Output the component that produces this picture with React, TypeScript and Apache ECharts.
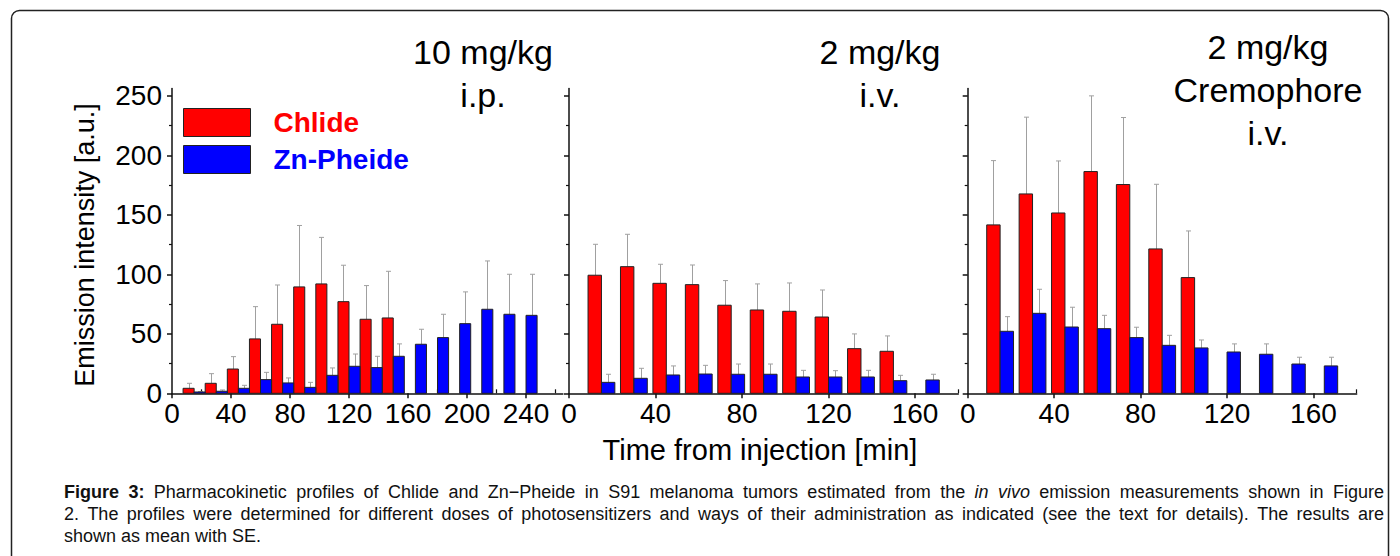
import React, { useEffect, useRef } from 'react';
import * as echarts from 'echarts';

// ---------- data ----------
const seriesNames = ['Chlide', 'Zn-Pheide'];
const panelTitles = ['10 mg/kg\ni.p.', '2 mg/kg\ni.v.', '2 mg/kg\nCremophore\ni.v.'];

// Panel 1: 10 mg/kg i.p.
const p1ChlideTime = [15, 30, 45, 60, 75, 90, 105, 120, 135, 150];
const p1ChlideMean = [4.2, 8.4, 20.4, 45.7, 58, 89.4, 91.9, 77, 62.2, 63.3];
const p1ChlideSE = [4.2, 8.1, 10.4, 27.1, 33, 51.6, 39.1, 30.6, 28.3, 39.2];
const p1ZnTime = [15, 30, 45, 60, 75, 90, 105, 120, 135, 150, 165, 180, 195, 210, 225, 240];
const p1ZnMean = [1.1, 1.7, 4.2, 11.5, 8.7, 5, 15.1, 22.7, 21.6, 31.1, 41.2, 46.8, 58.5, 70.6, 66.4, 65.5];
const p1ZnSE = [0.4, 1.1, 2.5, 6.1, 4.2, 4.2, 6.2, 10.3, 9.5, 10.4, 12.6, 19.6, 26.7, 40.6, 33.6, 34.5];

// Panel 2: 2 mg/kg i.v.
const p2ChlideTime = [15, 30, 45, 60, 75, 90, 105, 120, 135, 150];
const p2ChlideMean = [99.2, 106.4, 92.4, 91.3, 74, 70, 68.9, 64.1, 37.5, 35.3];
const p2ChlideSE = [26, 27.2, 16, 16.5, 20.7, 21.9, 23.8, 22.7, 12.4, 12.9];
const p2ZnTime = [15, 30, 45, 60, 75, 90, 105, 120, 135, 150, 165];
const p2ZnMean = [9.2, 12.6, 15.4, 16.2, 16, 16, 13.7, 13.7, 13.7, 10.6, 11.2];
const p2ZnSE = [6.8, 8.4, 7.6, 7.3, 8.6, 8.6, 5.6, 5.3, 5.6, 4.5, 4.8];

// Panel 3: 2 mg/kg Cremophore i.v.
const p3ChlideTime = [15, 30, 45, 60, 75, 90, 105];
const p3ChlideMean = [141.5, 167.5, 151.5, 186.3, 175.4, 121.3, 97.2];
const p3ChlideSE = [54, 64.5, 43.7, 63.6, 56.3, 54.3, 39.2];
const p3ZnTime = [15, 30, 45, 60, 75, 90, 105, 120, 135, 150, 165];
const p3ZnMean = [52.1, 67.2, 55.7, 54.3, 46.8, 40.3, 38.1, 34.7, 32.8, 24.6, 23];
const p3ZnSE = [12.3, 20.2, 16.6, 11.2, 8.7, 8.4, 6.7, 6.8, 8.7, 5.7, 7.3];

// axes
const xMaxes = [265, 180, 180];
const xMajor1 = [0, 40, 80, 120, 160, 200, 240];
const xMinor1 = [20, 60, 100, 140, 180, 220, 260];
const xMajor23 = [0, 40, 80, 120, 160];
const xMinor23 = [20, 60, 100, 140, 180];
const yMax = 256;
const yMajor = [0, 50, 100, 150, 200, 250];
const yMinor = [25, 75, 125, 175, 225];

const xTitle = 'Time from injection [min]';
const yTitle = 'Emission intensity [a.u.]';

const captionLines = [
  [
    { t: 'Figure 3:', s: 'bold' },
    { t: 'Pharmacokinetic profiles of Chlide and Zn\u2212Pheide in S91 melanoma tumors estimated from the', s: 'normal' },
    { t: 'in vivo', s: 'italic' },
    { t: 'emission measurements shown in Figure', s: 'normal' },
  ],
  [
    { t: '2. The profiles were determined for different doses of photosensitizers and ways of their administration as indicated (see the text for details). The results are', s: 'normal' },
  ],
  [{ t: 'shown as mean with SE.', s: 'normal' }],
];

// ---------- styling ----------
const FONT = '"Liberation Sans", Arial, Helvetica, sans-serif';
const RED = '#ff0000';
const BLUE = '#0000ff';
const grids = [
  { left: 172, width: 390.9 },
  { left: 569, width: 389.3 },
  { left: 967.7, width: 389 },
];
const gridTop = 88.6;
const gridHeight = 304.7;
const halfWidths = [7.5, 6.2, 6.2];

function zip(t: number[], m: number[], e: number[]) {
  return t.map((v, i) => [v, m[i], e[i]]);
}

const panels = [
  { chl: zip(p1ChlideTime, p1ChlideMean, p1ChlideSE), zn: zip(p1ZnTime, p1ZnMean, p1ZnSE) },
  { chl: zip(p2ChlideTime, p2ChlideMean, p2ChlideSE), zn: zip(p2ZnTime, p2ZnMean, p2ZnSE) },
  { chl: zip(p3ChlideTime, p3ChlideMean, p3ChlideSE), zn: zip(p3ZnTime, p3ZnMean, p3ZnSE) },
];

function makeRender(side: number, halfW: number, color: string) {
  return (params: any, api: any) => {
    const t = api.value(0);
    const v = api.value(1);
    const e = api.value(2);
    const a = api.coord([side < 0 ? t - halfW : t, 0]);
    const b = api.coord([side < 0 ? t : t + halfW, v]);
    const m = api.coord([t + (side * halfW) / 2, v + e]);
    const top = b[1];
    return {
      type: 'group',
      children: [
        {
          type: 'line',
          shape: { x1: Math.round(m[0]) + 0.5, y1: top, x2: Math.round(m[0]) + 0.5, y2: m[1] },
          style: { stroke: '#a0a0a0', lineWidth: 1 },
        },
        {
          type: 'line',
          shape: { x1: Math.round(m[0]) - 2, y1: m[1], x2: Math.round(m[0]) + 3, y2: m[1] },
          style: { stroke: '#a0a0a0', lineWidth: 1 },
        },
        {
          type: 'rect',
          shape: { x: a[0], y: top, width: b[0] - a[0], height: a[1] - top },
          style: { fill: color, stroke: '#222', lineWidth: 1 },
        },
      ],
    };
  };
}

function measure(text: string, style: string, size: number) {
  const c = document.createElement('canvas').getContext('2d')!;
  const w = style === 'bold' ? 'bold ' : style === 'italic' ? 'italic ' : '';
  c.font = `${w}${size}px "Liberation Sans", Arial, sans-serif`;
  return c.measureText(text).width;
}

function captionGraphics() {
  const size = 18;
  const left = 64;
  const right = 1384;
  const ys = [492, 514, 536];
  const out: any[] = [];
  captionLines.forEach((line, li) => {
    const words: { t: string; s: string }[] = [];
    line.forEach((seg) => seg.t.split(' ').forEach((w) => words.push({ t: w, s: seg.s })));
    const widths = words.map((w) => measure(w.t, w.s, size));
    const total = widths.reduce((p, c) => p + c, 0);
    const justify = li < captionLines.length - 1;
    const gap = justify ? (right - left - total) / (words.length - 1) : measure(' ', 'normal', size);
    let x = left;
    words.forEach((w, i) => {
      out.push({
        type: 'text',
        x,
        y: ys[li],
        style: {
          text: w.t,
          font: `${w.s === 'bold' ? 'bold ' : w.s === 'italic' ? 'italic ' : ''}${size}px ${FONT}`,
          fill: '#111',
          verticalAlign: 'middle',
          align: 'left',
        },
      });
      x += widths[i] + gap;
    });
  });
  return out;
}

export default function App() {
  const ref = useRef<HTMLDivElement>(null);
  useEffect(() => {
    if (!ref.current) return;
    const chart = echarts.init(ref.current, undefined, { renderer: 'svg' });
    const axisLine = { show: true, onZero: false, lineStyle: { color: '#111', width: 1.5 } };
    const xAxes: any[] = [];
    const yAxes: any[] = [];
    grids.forEach((g, i) => {
      const major = i === 0 ? xMajor1 : xMajor23;
      xAxes.push({
        type: 'value',
        gridIndex: i,
        min: 0,
        max: xMaxes[i],
        axisLine,
        splitLine: { show: false },
        axisTick: { show: true, customValues: major, length: 5, lineStyle: { color: '#111', width: 1.5 } },
        axisLabel: {
          customValues: major,
          fontSize: 28,
          color: '#000',
          fontFamily: FONT,
          margin: 6,
        },
      });
      yAxes.push({
        type: 'value',
        gridIndex: i,
        min: 0,
        max: yMax,
        axisLine,
        splitLine: { show: false },
        axisTick: { show: true, customValues: yMajor, length: 5, lineStyle: { color: '#111', width: 1.5 } },
        axisLabel: {
          show: i === 0,
          customValues: yMajor,
          fontSize: 28,
          color: '#000',
          fontFamily: FONT,
          margin: 10,
        },
      });
    });
    grids.forEach((g, i) => {
      const minor = i === 0 ? xMinor1 : xMinor23;
      xAxes.push({
        type: 'value',
        gridIndex: i,
        min: 0,
        max: xMaxes[i],
        position: 'bottom',
        axisLine: { show: false },
        splitLine: { show: false },
        axisTick: { show: true, inside: true, customValues: minor, length: 4, lineStyle: { color: '#111', width: 1.2 } },
        axisLabel: { show: false },
      });
      yAxes.push({
        type: 'value',
        gridIndex: i,
        min: 0,
        max: yMax,
        position: 'left',
        axisLine: { show: false },
        splitLine: { show: false },
        axisTick: { show: true, customValues: yMinor, length: 3, lineStyle: { color: '#111', width: 1.2 } },
        axisLabel: { show: false },
      });
    });

    const series: any[] = [];
    panels.forEach((p, i) => {
      series.push({
        type: 'custom',
        name: seriesNames[0],
        xAxisIndex: i,
        yAxisIndex: i,
        itemStyle: { color: RED },
        encode: { x: 0, y: 1 },
        renderItem: makeRender(-1, halfWidths[i], RED),
        data: p.chl,
        clip: false,
      });
      series.push({
        type: 'custom',
        name: seriesNames[1],
        xAxisIndex: i,
        yAxisIndex: i,
        itemStyle: { color: BLUE },
        encode: { x: 0, y: 1 },
        renderItem: makeRender(1, halfWidths[i], BLUE),
        data: p.zn,
        clip: false,
      });
    });

    const titlePos = [
      { x: 483, y: 30.5 },
      { x: 880, y: 30.5 },
      { x: 1268, y: 25.2 },
    ];

    chart.setOption({
      animation: false,
      backgroundColor: '#fff',
      grid: grids.map((g) => ({ left: g.left, width: g.width, top: gridTop, height: gridHeight })),
      xAxis: xAxes,
      yAxis: yAxes,
      legend: {
        orient: 'vertical',
        left: 178,
        top: 103,
        itemWidth: 67,
        itemHeight: 28,
        itemGap: 8,
        icon: 'rect',
        selectedMode: false,
        textStyle: { fontSize: 28, fontWeight: 'bold', fontFamily: FONT, padding: [0, 0, 0, 18] },
        data: [
          { name: seriesNames[0], itemStyle: { color: RED, borderColor: '#222', borderWidth: 1 }, textStyle: { color: RED } },
          { name: seriesNames[1], itemStyle: { color: BLUE, borderColor: '#222', borderWidth: 1 }, textStyle: { color: BLUE } },
        ],
      },
      graphic: [
        {
          type: 'rect',
          shape: { x: 11.5, y: 10.5, width: 1377, height: 620, r: 8 },
          style: { fill: 'none', stroke: '#222', lineWidth: 1.5 },
          z: -10,
        },
        ...panelTitles.map((t, i) => ({
          type: 'text',
          x: titlePos[i].x,
          y: titlePos[i].y,
          style: { text: t, font: `34px ${FONT}`, fill: '#000', align: 'center', verticalAlign: 'top', lineHeight: 43 },
        })),
        {
          type: 'text',
          x: 760,
          y: 450,
          style: { text: xTitle, font: `29px ${FONT}`, fill: '#000', align: 'center', verticalAlign: 'middle' },
        },
        {
          type: 'text',
          x: 85,
          y: 245,
          rotation: Math.PI / 2,
          style: { text: yTitle, font: `27px ${FONT}`, fill: '#000', align: 'center', verticalAlign: 'middle' },
        },
        ...captionGraphics(),
      ],
      series,
    });
    return () => chart.dispose();
  }, []);
  return <div ref={ref} style={{ position: 'absolute', left: 0, top: 0, width: 1400, height: 556 }} />;
}
